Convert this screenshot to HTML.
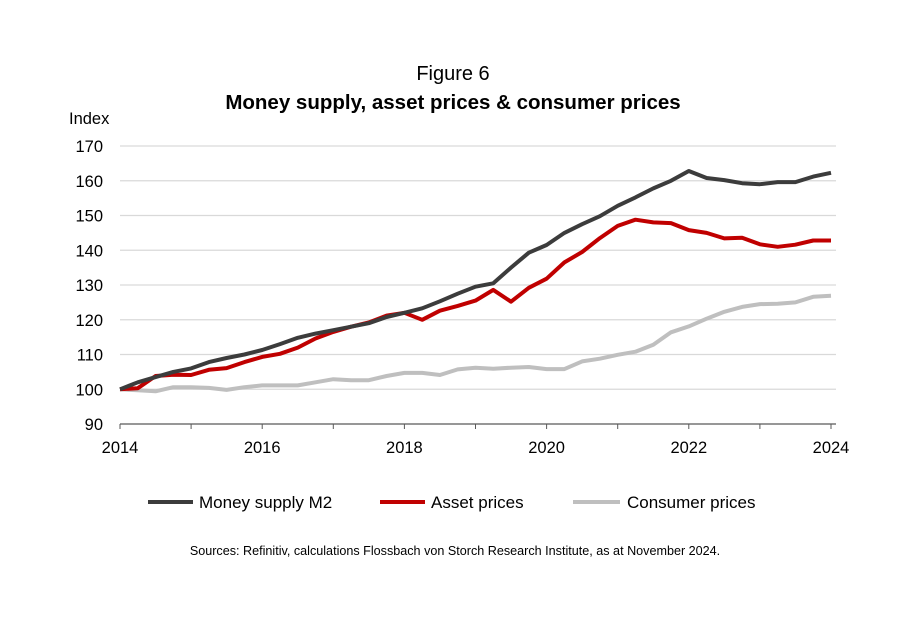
<!DOCTYPE html>
<html><head><meta charset="utf-8"><style>
body{margin:0;background:#fff;}
svg text{font-family:"Liberation Sans",sans-serif;fill:#000;}
</style></head><body>
<svg id="s" width="908" height="613" xmlns="http://www.w3.org/2000/svg">
<text x="453" y="80" font-size="20" text-anchor="middle">Figure 6</text>
<text x="453" y="109" font-size="20.5" font-weight="bold" text-anchor="middle">Money supply, asset prices &amp; consumer prices</text>
<text x="69" y="124" font-size="16.5">Index</text>
<g id="grid"></g>
<g id="lines"></g>
<g font-size="17">
<line x1="148" y1="502" x2="193" y2="502" stroke="#3c3c3c" stroke-width="4"/>
<text x="199" y="508">Money supply M2</text>
<line x1="380" y1="502" x2="425" y2="502" stroke="#c00000" stroke-width="4"/>
<text x="431" y="508">Asset prices</text>
<line x1="573" y1="502" x2="620" y2="502" stroke="#bfbfbf" stroke-width="4"/>
<text x="627" y="508">Consumer prices</text>
</g>
<text x="455" y="555" font-size="12.6" text-anchor="middle">Sources: Refinitiv, calculations Flossbach von Storch Research Institute, as at November 2024.</text>
</svg>
<script>
const NS="http://www.w3.org/2000/svg";
const y=v=>424-(v-90)*3.475, x=t=>120+t*71.1;
const g=document.getElementById('grid'), L=document.getElementById('lines');
function el(p,tag,a,txt){const e=document.createElementNS(NS,tag);for(const k in a)e.setAttribute(k,a[k]);if(txt)e.textContent=txt;p.appendChild(e);}
for(let v=90;v<=170;v+=10){
 if(v>90) el(g,'line',{x1:120,x2:836,y1:y(v),y2:y(v),stroke:'#d9d9d9','stroke-width':1.3});
 el(g,'text',{x:103,y:y(v)+6,'font-size':16.5,'text-anchor':'end'},String(v));
}
el(g,'line',{x1:120,x2:836,y1:424,y2:424,stroke:'#595959','stroke-width':1.3});
for(let yr=0;yr<=10;yr++){el(g,'line',{x1:x(yr),x2:x(yr),y1:424,y2:429,stroke:'#595959'});
 if(yr%2==0) el(g,'text',{x:x(yr),y:453,'font-size':16.5,'text-anchor':'middle'},String(2014+yr));}
const S={
'#bfbfbf':[100,99.7,99.4,100.6,100.6,100.4,99.8,100.6,101.1,101.1,101.1,102,102.9,102.6,102.6,103.8,104.7,104.7,104.1,105.7,106.2,105.9,106.2,106.4,105.8,105.8,108,108.8,109.9,110.8,112.8,116.4,118.1,120.3,122.3,123.7,124.5,124.6,125,126.6,126.9],
'#c00000':[100,100.3,103.8,104.2,104.1,105.6,106.1,107.8,109.3,110.2,112,114.6,116.5,118,119.2,121.2,122,120,122.6,124,125.5,128.6,125.2,129.2,131.8,136.5,139.5,143.5,147,148.8,148,147.8,145.8,145,143.4,143.6,141.7,141,141.6,142.8,142.8],
'#3c3c3c':[100,102,103.5,105,106,107.8,109,110,111.3,113,114.8,116,117,118,119,120.8,122,123.3,125.3,127.5,129.5,130.5,135,139.3,141.5,145,147.5,149.8,152.8,155.2,157.8,160,162.8,160.8,160.2,159.3,159,159.6,159.6,161.2,162.3]};
for(const c in S){el(L,'polyline',{points:S[c].map((v,i)=>x(i/4).toFixed(1)+','+y(v).toFixed(1)).join(' '),fill:'none',stroke:c,'stroke-width':4,'stroke-linejoin':'round'});}
</script>
</body></html>
